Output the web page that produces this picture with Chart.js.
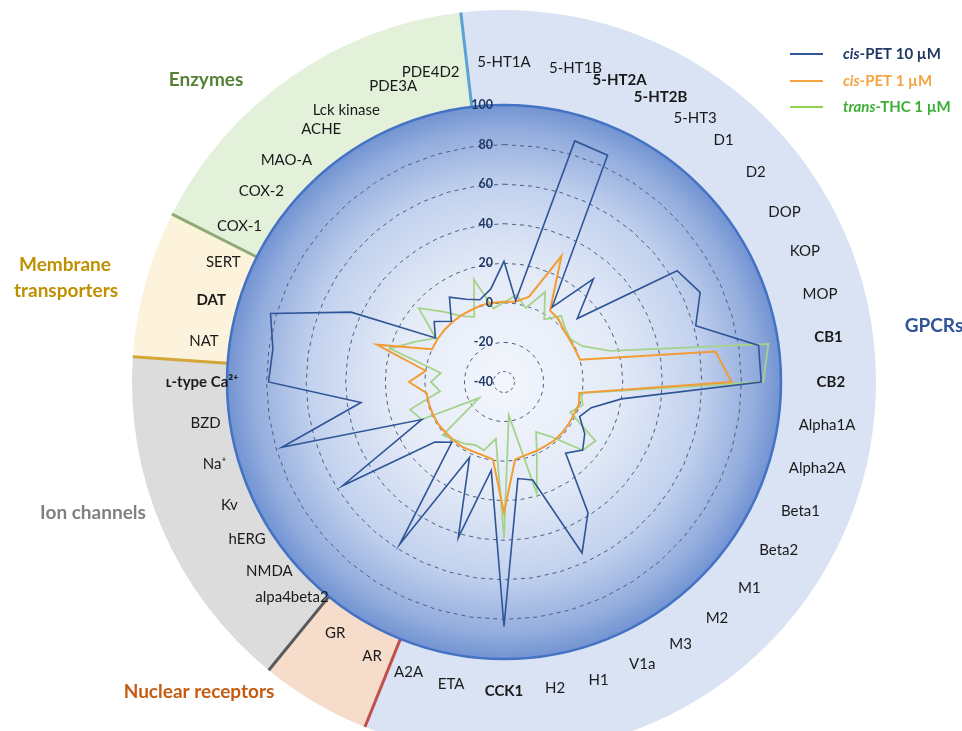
<!DOCTYPE html>
<html>
<head>
<meta charset="utf-8">
<script src="https://cdn.jsdelivr.net/npm/chart.js@4.4.1/dist/chart.umd.min.js"></script>
<style>
html,body{margin:0;padding:0;background:#ffffff;}
#wrap{width:962px;height:731px;}
</style>
</head>
<body>
<div id="wrap"><canvas id="c" width="962" height="731"></canvas></div>
<script>
// ---------- data ----------
const categories = ['5-HT1A','5-HT1B','5-HT2A','5-HT2B','5-HT3','D1','D2','DOP','KOP','MOP','CB1','CB2',
  'Alpha1A','Alpha2A','Beta1','Beta2','M1','M2','M3','V1a','H1','H2','CCK1','ETA','A2A',
  'AR','GR',
  'alpa4beta2','NMDA','hERG','Kv','Na\u207A','BZD','\u029F-type Ca\u00B2\u207A',
  'NAT','DAT','SERT',
  'COX-1','COX-2','MAO-A','ACHE','Lck kinase','PDE3A','PDE4D2'];

const cisPet10 = [21, 1.5, 87, 86, 5, 29, 9, 64, 69, 61, 90, 90,
  20, 6, 2, 8.5, 12.6, 7.6, 38.5, 55, 11.6, 9.3, 83.6, 5.2, 42,
  2, 57.5,
  0.3, 6.3, 57, 5.7, 77, 33, 79,
  78, 83, 45,
  1.2, 6.7, 0.6, 11, 6, 3.3, 7.4];

const cisPet1 = [0.5, 1, 5, 30, 3, 2, 0, -0.5, -0.5, 0, 68, 75,
  -1.5, -0.5, -1, -1, -1, -1, -1.5, -1.5, -1.5, -0.5, 26, -0.5, -1.5,
  -1.5, -1,
  -1, -1, -0.5, -0.5, -0.5, -0.5, 8,
  0, 27, 0,
  0, 0, 0, 0, 0, 0.5, 0.5];

const transThc1 = [0.3, 4.4, -1, 10, -2.4, 4.2, 1, 0, 3.6, 16, 95, 91,
  -0.7, 1.5, -3.2, 15, 12.7, -3.3, -10, 0, 18.8, -23, 39, -11, -4,
  -5, -3,
  -1.4, 1, -25, 5.7, 9.5, -7.3, -3,
  -7.7, 20, 9,
  1, 17, 7, -0.4, -3.8, 14, -2.5];

const seriesNames = ['cis-PET 10 \u00B5M', 'cis-PET 1 \u00B5M', 'trans-THC 1 \u00B5M'];
const tickValues = [-40, -20, 0, 20, 40, 60, 80, 100];

const groupNames = ['GPCRs', 'Nuclear receptors', 'Ion channels', 'Membrane transporters', 'Enzymes'];
const groupFirst = [0, 25, 27, 34, 37];
const groupLast  = [24, 26, 33, 36, 43];

// ---------- styles ----------
const FONT = 'Lato, "Open Sans", "DejaVu Sans", sans-serif';
const boldCats = ['5-HT2A', '5-HT2B', 'CB1', 'CB2', 'CCK1', 'DAT', '\u029F-type Ca\u00B2\u207A'];
const groupStyle = [
  {fill: '#dae3f3', line: '#5ba3d6', color: '#2f5597', title: [['GPCRs', 934, 326]]},
  {fill: '#f6dccb', line: '#c0504d', color: '#c55a11', title: [['Nuclear receptors', 199, 692]]},
  {fill: '#dcdcdc', line: '#595959', color: '#808080', title: [['Ion channels', 93, 513]]},
  {fill: '#fdf3dc', line: '#d4a637', color: '#bf9000', title: [['Membrane', 65, 265], ['transporters', 66, 291]]},
  {fill: '#e3f0da', line: '#8eaa74', color: '#548235', title: [['Enzymes', 206, 80]]}
];
const seriesColors = ['#2f5597', '#f39b34', '#a6d38b'];
const legendLineColors = ['#2f5597', '#f5a33d', '#92d050'];
const legendTextColors = ['#1f3864', '#f4a442', '#3cae34'];

const decorPlugin = {
  id: 'decor',
  beforeDraw(chart) {
    const ctx = chart.ctx;
    const s = chart.scales.r;
    const cx = s.xCenter, cy = s.yCenter, R = s.drawingArea;
    const labels = chart.data.labels;
    const n = labels.length;
    const step = 2 * Math.PI / n;
    const Rout = R * 1.343;
    ctx.save();

    // label layout: near the index angle, spread along the arc away from the vertical axis
    const lay = labels.map((lab, i) => {
      const a = i * step;
      const font = (boldCats.includes(lab) ? 'bold ' : '') + '15px ' + FONT;
      ctx.font = font;
      const w = ctx.measureText(lab).width;
      const c = Math.cos(a), sn = Math.sin(a);
      const rl = R * (1.135 + 0.02 * c + 0.045 * sn);
      const k = c > 0 ? 1.0 : 0.7;
      const da = Math.abs(sn) < 1e-6 ? 0 : Math.sign(sn) * k * (w / 2) * c / rl;
      return {lab, font, rl, da, a: a + da};
    });
    // separators sit halfway between neighbouring group labels
    const bound = groupFirst.map(f => {
      const prev = f === 0 ? lay[n - 1].a - 2 * Math.PI : lay[f - 1].a;
      return (prev + lay[f].a) / 2 - Math.PI / 2;
    });

    // outer ring sectors
    for (let g = 0; g < groupFirst.length; g++) {
      const a0 = bound[g];
      let a1 = bound[(g + 1) % groupFirst.length];
      if (a1 <= a0) a1 += 2 * Math.PI;
      ctx.beginPath();
      ctx.arc(cx, cy, Rout, a0, a1);
      ctx.arc(cx, cy, R, a1, a0, true);
      ctx.closePath();
      ctx.fillStyle = groupStyle[g].fill;
      ctx.fill();
    }
    // separators
    for (let g = 0; g < groupFirst.length; g++) {
      const a = bound[g];
      ctx.beginPath();
      ctx.moveTo(cx + R * Math.cos(a), cy + R * Math.sin(a));
      ctx.lineTo(cx + Rout * Math.cos(a), cy + Rout * Math.sin(a));
      ctx.strokeStyle = groupStyle[g].line;
      ctx.lineWidth = 3;
      ctx.stroke();
    }
    // gradient disk
    const grd = ctx.createRadialGradient(cx, cy, 0, cx, cy, R);
    grd.addColorStop(0, '#f3f6fc');
    grd.addColorStop(0.4, '#e4ebf7');
    grd.addColorStop(0.7, '#c3d2ee');
    grd.addColorStop(0.9, '#95aede');
    grd.addColorStop(1, '#7294d2');
    ctx.beginPath();
    ctx.arc(cx, cy, R, 0, Math.PI * 2);
    ctx.fillStyle = grd;
    ctx.fill();
    ctx.lineWidth = 2.5;
    ctx.strokeStyle = '#4472c4';
    ctx.stroke();
    // small decorative ring near the centre
    ctx.beginPath();
    ctx.setLineDash([3, 3]);
    ctx.arc(cx, cy, 10.5, 0, Math.PI * 2);
    ctx.lineWidth = 1;
    ctx.strokeStyle = '#4a5f86';
    ctx.stroke();
    ctx.setLineDash([]);
    // category labels
    ctx.textAlign = 'center';
    ctx.textBaseline = 'middle';
    ctx.fillStyle = '#1a1a1a';
    lay.forEach((L, i) => {
      const p = s.getPointPosition(i, L.rl, L.da);
      ctx.font = L.font;
      ctx.fillText(L.lab, p.x, p.y);
    });
    // group titles
    ctx.font = 'bold 19px ' + FONT;
    groupStyle.forEach((gs) => {
      ctx.fillStyle = gs.color;
      gs.title.forEach(t => ctx.fillText(t[0], t[1], t[2]));
    });
    // legend
    const ly = [54, 81, 107];
    chart.data.datasets.forEach((ds, k) => {
      ctx.beginPath();
      ctx.moveTo(790, ly[k]);
      ctx.lineTo(823, ly[k]);
      ctx.strokeStyle = legendLineColors[k];
      ctx.lineWidth = 2;
      ctx.stroke();
      const name = ds.label;
      const dash = name.indexOf('-');
      const it = name.slice(0, dash), rest = name.slice(dash);
      ctx.textAlign = 'left';
      ctx.fillStyle = legendTextColors[k];
      ctx.font = 'italic bold 15px ' + FONT;
      ctx.fillText(it, 843, ly[k]);
      const w = ctx.measureText(it).width;
      ctx.font = 'bold 15px ' + FONT;
      ctx.fillText(rest, 843 + w, ly[k]);
    });
    ctx.restore();
  },
  afterDatasetsDraw(chart) {
    const ctx = chart.ctx;
    const s = chart.scales.r;
    ctx.save();
    ctx.font = 'bold 12.5px ' + FONT;
    ctx.fillStyle = '#1f3864';
    ctx.textAlign = 'right';
    ctx.textBaseline = 'middle';
    s.ticks.forEach(t => {
      ctx.fillText(String(t.value), s.xCenter - 11, s.yCenter - s.getDistanceFromCenterForValue(t.value));
    });
    ctx.restore();
  }
};

new Chart(document.getElementById('c'), {
  type: 'radar',
  data: {
    labels: categories,
    datasets: [
      {label: seriesNames[0], data: cisPet10, borderColor: seriesColors[0], borderWidth: 1.6},
      {label: seriesNames[1], data: cisPet1, borderColor: seriesColors[1], borderWidth: 2},
      {label: seriesNames[2], data: transThc1, borderColor: seriesColors[2], borderWidth: 1.8}
    ]
  },
  options: {
    responsive: false,
    animation: false,
    layout: {padding: {left: 227, right: 181, top: 105, bottom: 72}},
    elements: {
      line: {tension: 0, fill: false},
      point: {radius: 0, hoverRadius: 0}
    },
    plugins: {legend: {display: false}, tooltip: {enabled: false}},
    scales: {
      r: {
        min: tickValues[0],
        max: tickValues[tickValues.length - 1],
        ticks: {stepSize: tickValues[1] - tickValues[0], display: false},
        pointLabels: {display: false},
        angleLines: {display: false},
        grid: {
          color: c => (c.tick && c.tick.value === 100) ? 'rgba(0,0,0,0)' : '#4a5f86',
          lineWidth: 1
        },
        border: {dash: [4, 4]}
      }
    }
  },
  plugins: [decorPlugin]
});
</script>
</body>
</html>
